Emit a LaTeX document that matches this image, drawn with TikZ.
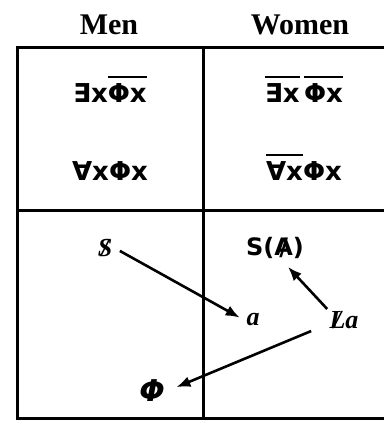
\documentclass[tikz,border=0pt]{standalone}
\usepackage{fontspec}
\setmainfont{Liberation Serif}
\newfontfamily\formfont{DejaVu Sans}
\usetikzlibrary{arrows.meta}

% bar of negation over a part of a formula
\newcommand{\negbar}[1]{\vbox{\hrule height 1.1pt\kern 3pt\hbox{#1}}}
% struck-through letter
\newcommand{\barthrough}[1]{\ooalign{#1\cr\hidewidth/\hidewidth\cr}}

\begin{document}
\begin{tikzpicture}[
    x=0.5pt, y=-0.5pt,
    head/.style={font=\bfseries\fontsize{15}{17}\selectfont},
    formula/.style={anchor=base, font=\formfont\bfseries\fontsize{13}{15}\selectfont},
    term/.style={inner sep=1pt, font=\bfseries\itshape\fontsize{13}{15}\selectfont},
    sterm/.style={inner sep=1pt, font=\formfont\bfseries\fontsize{12}{14}\selectfont},
    frame/.style={line width=1.5pt},
    arrow/.style={-{Latex[length=7pt,width=5.5pt]}, line width=1.3pt}
]
\useasboundingbox (0,0) rectangle (384,422);

% table
\draw[frame] (400,48) -- (17,48) -- (17,418) -- (400,418);
\draw[frame] (203,48) -- (203,418);
\draw[frame] (17,210) -- (400,210);

\node[head] (men) at (109,25) {Men};
\node[head] (women) at (300,25) {Women};

% formulas
\node[formula] (exmen) at (110,103) {∃x\negbar{Φx}};
\node[formula] (allmen) at (110,181) {∀xΦx};
\node[formula] (exwomen) at (304,103) {\negbar{∃x}\,\negbar{Φx}};
\node[formula] (allwomen) at (304,181) {\negbar{∀x}Φx};

% lower part
\node[term] (subj) at (105,248) {\barthrough{S}};
\node[term] (obja) at (253,320) {a};
\node[sterm] (sofa) at (275,248) {S(\barthrough{A})};
\node[term] (thewoman) at (344,320) {\barthrough{L}a};
\node[sterm, font=\formfont\bfseries\itshape\fontsize{15}{17}\selectfont] (phallus) at (152,391) {Φ};

\draw[arrow, shorten <=3pt, shorten >=2.5pt] (subj.east) -- (obja.west);
\draw[arrow, shorten >=4pt] (thewoman.north west) -- (sofa.-60);
\draw[arrow, shorten >=5pt] ([xshift=-8pt]thewoman.south west) -- (phallus.east);
\end{tikzpicture}
\end{document}
